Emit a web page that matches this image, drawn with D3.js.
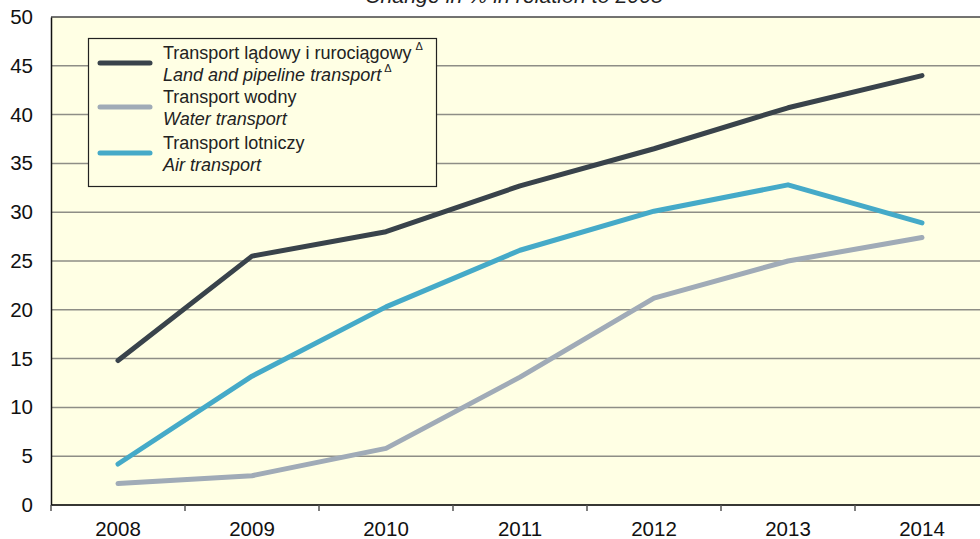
<!DOCTYPE html>
<html>
<head>
<meta charset="utf-8">
<script src="https://cdn.jsdelivr.net/npm/d3@7"></script>
<style>
  html, body { margin: 0; padding: 0; background: #ffffff; }
  svg { display: block; font-family: "Liberation Sans", Arial, sans-serif; }
</style>
</head>
<body>
<svg id="chart" width="980" height="539"></svg>
<script>
// Years on the category axis
const years = ["2008", "2009", "2010", "2011", "2012", "2013", "2014"];

// Change in % in relation to 2005
const landPipeline = [14.8, 25.5, 28.0, 32.7, 36.5, 40.7, 44.0];
const water = [2.2, 3.0, 5.8, 13.1, 21.2, 25.0, 27.4];
const air = [4.2, 13.2, 20.3, 26.1, 30.1, 32.8, 28.9];

const yTicks = [0, 5, 10, 15, 20, 25, 30, 35, 40, 45, 50];

const seriesInfo = [
  { pl: "Transport lądowy i rurociągowy", en: "Land and pipeline transport", mark: true, values: landPipeline, color: "#39434b" },
  { pl: "Transport wodny", en: "Water transport", mark: false, values: water, color: "#a0abb7" },
  { pl: "Transport lotniczy", en: "Air transport", mark: false, values: air, color: "#45aac8" }
];

const svg = d3.select("#chart");
const plotLeft = 51, plotRight = 989, plotTop = 17, plotBottom = 505;

const x = d3.scaleBand().domain(years).range([plotLeft, plotRight]);
const y = d3.scaleLinear().domain([0, 50]).range([plotBottom, plotTop]);

// Plot background
svg.append("rect")
  .attr("x", plotLeft).attr("y", plotTop)
  .attr("width", plotRight - plotLeft).attr("height", plotBottom - plotTop)
  .attr("fill", "#ffffe4");

// Subtitle, mostly running off the top edge
svg.append("text")
  .attr("x", 514).attr("y", 3)
  .attr("text-anchor", "middle")
  .attr("font-style", "italic")
  .attr("font-size", 21)
  .attr("textLength", 298)
  .attr("lengthAdjust", "spacingAndGlyphs")
  .attr("fill", "#222")
  .text("Change in % in relation to 2005");

// Horizontal grid lines
svg.append("g")
  .selectAll("line")
  .data(yTicks)
  .join("line")
  .attr("x1", plotLeft).attr("x2", plotRight)
  .attr("y1", d => y(d)).attr("y2", d => y(d))
  .attr("stroke", d => d === 50 ? "#444" : "#8e8e86")
  .attr("stroke-width", 1.5);

// Y axis
const yAxis = svg.append("g")
  .attr("transform", `translate(${plotLeft},0)`)
  .call(d3.axisLeft(y).tickValues(yTicks).tickSize(0).tickPadding(18));
yAxis.select(".domain").attr("stroke", "#111").attr("stroke-width", 1.5);
yAxis.selectAll("text").attr("font-size", 20.5).attr("fill", "#111")
  .attr("font-family", "Liberation Sans, Arial, sans-serif");

// X axis with ticks at band boundaries
const xAxis = svg.append("g")
  .attr("transform", `translate(0,${plotBottom})`)
  .call(d3.axisBottom(x).tickSize(0).tickPadding(0));
xAxis.select(".domain").remove();
xAxis.selectAll("text")
  .attr("dy", null)
  .attr("y", 31)
  .attr("font-size", 20.5).attr("fill", "#111")
  .attr("font-family", "Liberation Sans, Arial, sans-serif");
svg.append("line")
  .attr("x1", plotLeft).attr("x2", plotRight)
  .attr("y1", plotBottom).attr("y2", plotBottom)
  .attr("stroke", "#111").attr("stroke-width", 1.5);
svg.append("g")
  .selectAll("line")
  .data(years)
  .join("line")
  .attr("x1", d => x(d)).attr("x2", d => x(d))
  .attr("y1", plotBottom).attr("y2", plotBottom + 6)
  .attr("stroke", "#555").attr("stroke-width", 1.5);

// Series lines
const line = d3.line()
  .x((d, i) => x(years[i]) + x.bandwidth() / 2)
  .y(d => y(d));

svg.append("g")
  .selectAll("path")
  .data(seriesInfo)
  .join("path")
  .attr("d", d => line(d.values))
  .attr("fill", "none")
  .attr("stroke", d => d.color)
  .attr("stroke-width", 5)
  .attr("stroke-linecap", "round")
  .attr("stroke-linejoin", "round");

// Legend
const lg = svg.append("g");
lg.append("rect")
  .attr("x", 88.5).attr("y", 38.5)
  .attr("width", 348).attr("height", 148)
  .attr("fill", "#ffffe4")
  .attr("stroke", "#222").attr("stroke-width", 1.2);

const rowY = [63, 107, 153];
seriesInfo.forEach((s, i) => {
  const g = lg.append("g");
  g.append("line")
    .attr("x1", 100).attr("x2", 150)
    .attr("y1", rowY[i]).attr("y2", rowY[i])
    .attr("stroke", s.color).attr("stroke-width", 5)
    .attr("stroke-linecap", "round");
  const t1 = g.append("text")
    .attr("x", 163).attr("y", rowY[i] - 4)
    .attr("font-size", 18).attr("fill", "#222")
    .text(s.pl);
  const t2 = g.append("text")
    .attr("x", 163).attr("y", rowY[i] + 18)
    .attr("font-size", 18).attr("font-style", "italic").attr("fill", "#222")
    .text(s.en);
  if (s.mark) {
    t1.append("tspan").attr("font-size", 11).attr("dx", 4).attr("dy", -9).attr("font-style", "normal").text("Δ");
    t2.append("tspan").attr("font-size", 11).attr("dx", 3).attr("dy", -9).attr("font-style", "normal").text("Δ");
  }
});
</script>
</body>
</html>
